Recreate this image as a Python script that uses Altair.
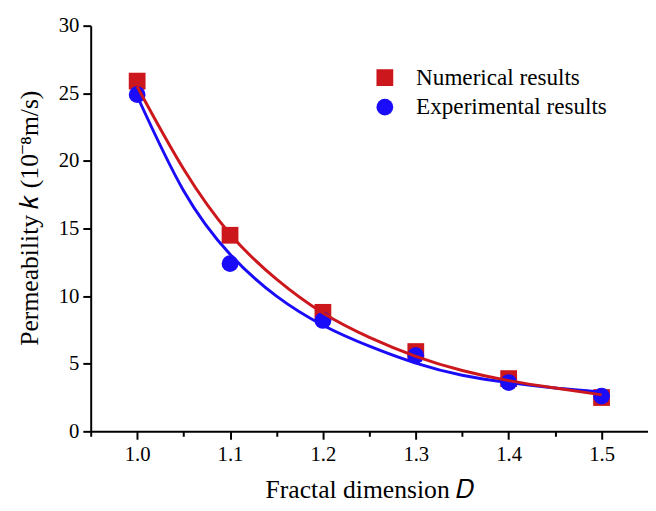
import altair as alt
import pandas as pd

# Scatter data
D = [1.0, 1.1, 1.2, 1.3, 1.4, 1.5]
k_num = [25.9, 14.5, 8.8, 5.9, 3.9, 2.5]
k_exp = [24.9, 12.4, 8.2, 5.6, 3.6, 2.6]

# Fitted curves
curve_D = [1.0, 1.05, 1.1, 1.15, 1.2, 1.25, 1.3, 1.35, 1.4, 1.45, 1.5]
curve_num = [25.5, 19.4, 14.6, 11.25, 8.75, 6.95, 5.55, 4.5, 3.75, 3.2, 2.7]
curve_exp = [24.8, 17.8, 13.1, 10.0, 7.85, 6.3, 5.05, 4.15, 3.6, 3.2, 2.9]

series = ["Numerical results", "Experimental results"]
colors = ["#CC181C", "#1A0CF8"]
shapes = ["square", "circle"]

x_ticks = [0.95, 1.0, 1.05, 1.1, 1.15, 1.2, 1.25, 1.3, 1.35, 1.4, 1.45, 1.5]
y_ticks = [0, 2.5, 5, 7.5, 10, 12.5, 15, 17.5, 20, 22.5, 25, 27.5, 30]

pts = pd.DataFrame({
    "D": D * 2,
    "k": k_num + k_exp,
    "series": [series[0]] * len(D) + [series[1]] * len(D),
})
cnum = pd.DataFrame({"D": curve_D, "k": curve_num})
cexp = pd.DataFrame({"D": curve_D, "k": curve_exp})

FONT = "Liberation Serif"

xscale = alt.Scale(domain=[0.95, 1.55], nice=False, zero=False)
yscale = alt.Scale(domain=[0, 30], nice=False)

xaxis = alt.Axis(
    values=x_ticks,
    labelExpr="round(datum.value*20)%2==0 ? format(datum.value,'.1f') : ''",
    tickSize={"condition": {"test": "round(datum.value*20)%2==0", "value": 8}, "value": 5},
    title="Fractal dimension 𝐷",
    titlePadding=12,
    labelPadding=5,
)
yaxis = alt.Axis(
    values=y_ticks,
    labelExpr="datum.value%5==0 ? format(datum.value,'d') : ''",
    tickSize={"condition": {"test": "datum.value%5==0", "value": 8}, "value": 4},
    title="Permeability 𝑘 (10⁻⁸m/s)",
    titlePadding=16,
    titleY=195,
    labelPadding=4,
)

points = alt.Chart(pts).mark_point(filled=True, opacity=1, size=290).encode(
    x=alt.X("D:Q", scale=xscale, axis=xaxis),
    y=alt.Y("k:Q", scale=yscale, axis=yaxis),
    color=alt.Color("series:N", scale=alt.Scale(domain=series, range=colors),
                    legend=alt.Legend(title=None, orient="none", legendX=287, legendY=41,
                                      labelFont=FONT, labelFontSize=23.5, labelColor="black",
                                      labelLimit=0,
                                      symbolSize=290, symbolStrokeWidth=0, labelOffset=20,
                                      rowPadding=5, padding=0, symbolOpacity=1)),
    shape=alt.Shape("series:N", scale=alt.Scale(domain=series, range=shapes)),
    order=alt.Order("series:N", sort="descending"),
)

line_exp = alt.Chart(cexp).mark_line(color=colors[1], strokeWidth=3, interpolate="natural").encode(
    x=alt.X("D:Q", scale=xscale), y=alt.Y("k:Q", scale=yscale))
line_num = alt.Chart(cnum).mark_line(color=colors[0], strokeWidth=3, interpolate="natural").encode(
    x=alt.X("D:Q", scale=xscale), y=alt.Y("k:Q", scale=yscale))

chart = alt.layer(points, line_exp, line_num).properties(
    width=566, height=412,
    autosize=alt.AutoSizeParams(type="none"),
    padding={"left": 84, "top": 14, "right": 0, "bottom": 80},
).configure_view(stroke=None).configure_axis(
    grid=False,
    domainColor="black", domainWidth=2,
    tickColor="black", tickWidth=2,
    labelFont=FONT, labelFontSize=21, labelColor="black",
    titleFont=FONT, titleFontSize=26, titleColor="black", titleFontWeight="normal",
)

chart.save("out.html", embed_options={"renderer": "svg", "actions": False})
